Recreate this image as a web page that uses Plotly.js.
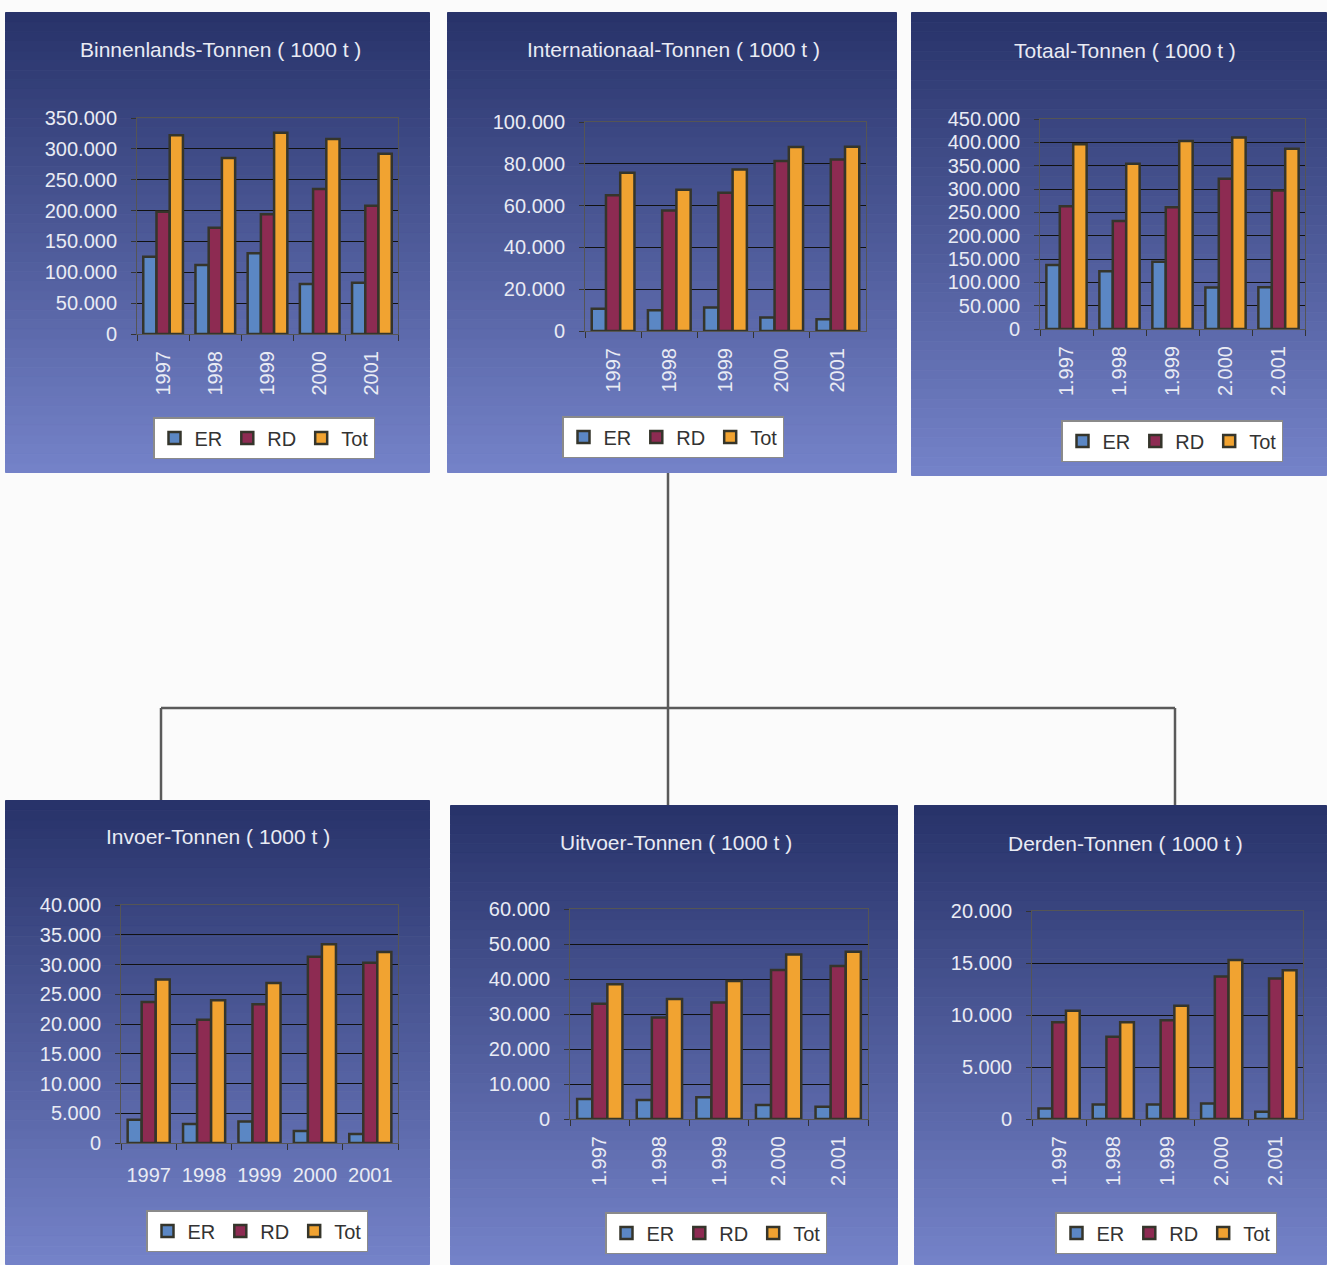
<!DOCTYPE html>
<html>
<head>
<meta charset="utf-8">
<script src="https://cdn.plot.ly/plotly-3.0.1.min.js"></script>
<style>html,body{margin:0;padding:0;background:#fbfbfb;}#chart{width:1327px;height:1265px;}</style>
</head>
<body>
<div id="chart"></div>
<script>
// ---- Data (thousand tonnes) ----
const years = ['1997', '1998', '1999', '2000', '2001'];
const yearLabelsPlain = ['1997', '1998', '1999', '2000', '2001'];
const yearLabelsDotted = ['1.997', '1.998', '1.999', '2.000', '2.001'];
const seriesNames = ['ER', 'RD', 'Tot'];

const binnenlandsER  = [125000, 112000, 131000, 81000, 83000];
const binnenlandsRD  = [198000, 172000, 194000, 235000, 208000];
const binnenlandsTot = [322000, 285000, 326000, 316000, 292000];

const internationaalER  = [10700, 9900, 11200, 6400, 5600];
const internationaalRD  = [64900, 57700, 66100, 81300, 82000];
const internationaalTot = [75700, 67600, 77300, 88000, 88100];

const totaalER  = [137000, 124000, 144000, 89000, 89500];
const totaalRD  = [263000, 231500, 261000, 322000, 297000];
const totaalTot = [396000, 354000, 403000, 410500, 386000];

const invoerER  = [3900, 3200, 3600, 2000, 1500];
const invoerRD  = [23700, 20700, 23300, 31300, 30300];
const invoerTot = [27500, 24000, 26900, 33400, 32100];

const uitvoerER  = [5700, 5400, 6200, 4000, 3500];
const uitvoerRD  = [32900, 29000, 33300, 42600, 43700];
const uitvoerTot = [38500, 34300, 39400, 47000, 47800];

const derdenER  = [1000, 1400, 1400, 1500, 700];
const derdenRD  = [9300, 7900, 9500, 13700, 13500];
const derdenTot = [10400, 9300, 10900, 15300, 14300];

const panelTitles = [
  'Binnenlands-Tonnen ( 1000 t )', 'Internationaal-Tonnen ( 1000 t )', 'Totaal-Tonnen ( 1000 t )',
  'Invoer-Tonnen ( 1000 t )', 'Uitvoer-Tonnen ( 1000 t )', 'Derden-Tonnen ( 1000 t )'
];
const panelData = [
  [binnenlandsER, binnenlandsRD, binnenlandsTot],
  [internationaalER, internationaalRD, internationaalTot],
  [totaalER, totaalRD, totaalTot],
  [invoerER, invoerRD, invoerTot],
  [uitvoerER, uitvoerRD, uitvoerTot],
  [derdenER, derdenRD, derdenTot]
];
const panelTickText = [yearLabelsPlain, yearLabelsPlain, yearLabelsDotted, yearLabelsPlain, yearLabelsDotted, yearLabelsDotted];
const yMax = [350000, 100000, 450000, 40000, 60000, 20000];
const yStep = [50000, 20000, 50000, 5000, 10000, 5000];

// ---- Layout geometry (pixels) ----
const W = 1327, H = 1265;
const panelBoxes = [
  [5, 12, 430, 473], [447, 12, 897, 473], [911, 12, 1327, 476],
  [5, 800, 430, 1265], [450, 805, 898, 1265], [914, 805, 1327, 1265]
];
const plotBoxes = [
  [137, 118, 398, 334], [585, 122, 866, 331], [1040, 119, 1305, 329],
  [121, 905, 398, 1143], [570, 909, 868, 1119], [1032, 911, 1303, 1119]
];
const titlePos = [[220, 49], [673, 49], [1125, 51], [218, 837], [676, 842], [1125, 843]];
const legendPos = [[264, 438], [673, 437], [1172, 441], [257, 1231], [716, 1233], [1166, 1233]];
const tickAngles = [-90, -90, -90, 0, -90, -90];
const tickStandoff = [8, 8, 8, 14, 8, 8];

const colors = ['#5b87c4', '#8d2b52', '#f1a331'];
const barLine = '#35352b';

const px = v => v / W;
const py = v => 1 - v / H;

const traces = [];
const layout = {
  width: W, height: H,
  margin: {l: 0, r: 0, t: 0, b: 0},
  paper_bgcolor: '#fbfbfb',
  plot_bgcolor: '#f8f18c',
  separators: ',.',
  barmode: 'group',
  bargap: 0.24,
  bargroupgap: 0,
  font: {family: 'Liberation Sans, Arial, sans-serif', color: '#e9ebf4', size: 20},
  shapes: [],
  annotations: []
};

function lerp(a, b, t) { return Math.round(a + (b - a) * t); }
const topC = [40, 51, 106], botC = [116, 130, 200];

for (let i = 0; i < 6; i++) {
  const sfx = i === 0 ? '' : String(i + 1);
  const xk = 'xaxis' + sfx, yk = 'yaxis' + sfx, lk = 'legend' + sfx;
  const pb = plotBoxes[i];
  for (let s = 0; s < 3; s++) {
    traces.push({
      type: 'bar', name: seriesNames[s], x: years, y: panelData[i][s],
      xaxis: 'x' + sfx, yaxis: 'y' + sfx, legend: lk,
      marker: {color: colors[s], line: {color: barLine, width: 2.5}},
      hoverinfo: 'x+y+name'
    });
  }
  layout[xk] = {
    domain: [px(pb[0]), px(pb[2])], anchor: 'y' + sfx, type: 'category',
    tickvals: years, ticktext: panelTickText[i], tickangle: tickAngles[i],
    ticks: 'outside', tickson: 'boundaries', ticklen: 6, tickcolor: '#333',
    showline: true, linecolor: '#555', linewidth: 1, mirror: true,
    showgrid: false, tickfont: {size: 20, color: '#e9ebf4'},
    ticklabelstandoff: tickStandoff[i], fixedrange: true
  };
  layout[yk] = {
    domain: [py(pb[3]), py(pb[1])], anchor: 'x' + sfx,
    range: [0, yMax[i]], dtick: yStep[i], tick0: 0, tickformat: ',d',
    ticks: 'outside', ticklen: 5, tickcolor: '#333',
    showline: true, linecolor: '#555', linewidth: 1, mirror: true,
    showgrid: true, gridcolor: '#111', gridwidth: 1,
    zeroline: true, zerolinecolor: '#333', zerolinewidth: 1,
    tickfont: {size: 20, color: '#e9ebf4'}, ticklabelstandoff: 10, fixedrange: true
  };
  layout[lk] = {
    orientation: 'h', x: px(legendPos[i][0]), y: py(legendPos[i][1]),
    xanchor: 'center', yanchor: 'middle',
    bgcolor: '#ffffff', bordercolor: '#8a8a8a', borderwidth: 1.5,
    font: {size: 20, color: '#333333'}, itemwidth: 30, tracegroupgap: 0,
    itemclick: false, itemdoubleclick: false
  };
  // panel gradient background
  const b = panelBoxes[i];
  const N = 48;
  for (let k = 0; k < N; k++) {
    const t = k / (N - 1);
    const y0 = b[1] + (b[3] - b[1]) * k / N;
    const y1 = Math.min(b[1] + (b[3] - b[1]) * (k + 1) / N + 1, b[3]);
    const c = 'rgb(' + lerp(topC[0], botC[0], t) + ',' + lerp(topC[1], botC[1], t) + ',' + lerp(topC[2], botC[2], t) + ')';
    layout.shapes.push({
      type: 'rect', xref: 'paper', yref: 'paper', layer: 'below',
      x0: px(b[0] + 0.5), x1: px(b[2] - 0.5), y0: py(y0 + 0.5), y1: py(y1 - 0.5),
      line: {width: 1, color: c}, fillcolor: c
    });
  }
  layout.annotations.push({
    xref: 'paper', yref: 'paper', x: px(titlePos[i][0]), y: py(titlePos[i][1]),
    xanchor: 'center', yanchor: 'middle', showarrow: false,
    text: panelTitles[i], font: {size: 21, color: '#e9ebf4'}
  });
}

// connector lines
const conn = [
  [668, 473, 668, 805], [161, 708, 1175, 708], [161, 708, 161, 800], [1175, 708, 1175, 805]
];
conn.forEach(c => layout.shapes.push({
  type: 'line', xref: 'paper', yref: 'paper', layer: 'below',
  x0: px(c[0]), y0: py(c[1]), x1: px(c[2]), y1: py(c[3]),
  line: {color: '#5a5a5a', width: 2.5}
}));

Plotly.newPlot('chart', traces, layout, {displayModeBar: false});
</script>
</body>
</html>
